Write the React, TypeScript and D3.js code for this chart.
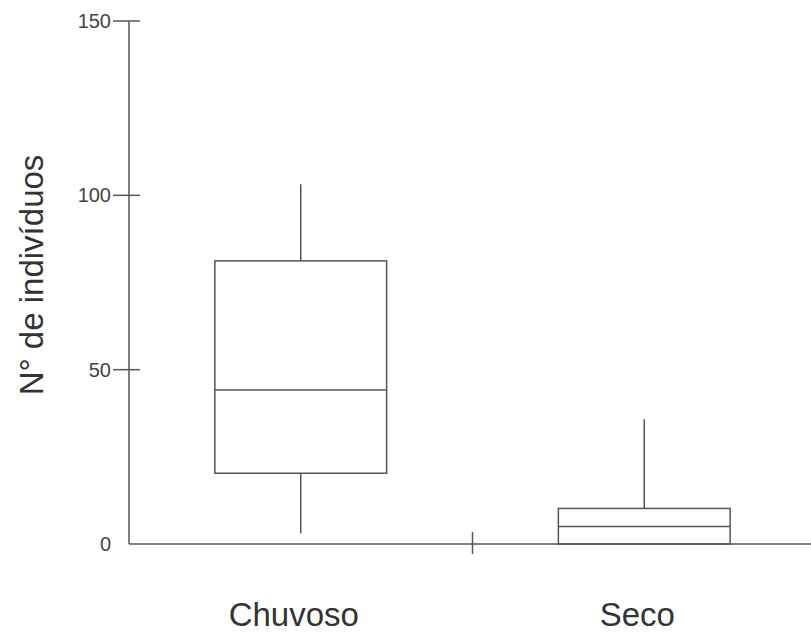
import React from "react";
import * as d3 from "d3";

// categorias e estatísticas das caixas
const categories = ["Chuvoso", "Seco"];
const whiskerLow = [3.1, 0];
const q1 = [20.3, 0];
const medians = [44.2, 5.0];
const q3 = [81.2, 10.2];
const whiskerHigh = [103.2, 35.8];
const yTicks = [0, 50, 100, 150];

const W = 811,
  H = 633;
const stroke = "#555";

export default function App() {
  const y = d3.scaleLinear().domain([0, 150]).range([544, 21]);
  const x = d3.scaleBand().domain(categories).range([129, 816]);
  const boxW = x.bandwidth() * 0.5;
  const midTick = x(categories[1])!;

  return (
    <svg
      width={W}
      height={H}
      style={{ position: "absolute", left: 0, top: 0, fontFamily: "'Liberation Sans', Arial, sans-serif" }}
    >
      {/* eixo y */}
      <line x1={x.range()[0]} x2={x.range()[0]} y1={y(150)} y2={y(0)} stroke={stroke} strokeWidth={1.5} />
      {yTicks.map((t) => (
        <g key={t}>
          {t > 0 && <line x1={113} x2={140} y1={y(t)} y2={y(t)} stroke={stroke} strokeWidth={1.5} />}
          <text x={111} y={y(t)} dy="0.35em" textAnchor="end" fontSize={20} fill="#444">
            {t}
          </text>
        </g>
      ))}
      {/* eixo x */}
      <line x1={x.range()[0]} x2={W} y1={y(0)} y2={y(0)} stroke={stroke} strokeWidth={1.5} />
      <line x1={midTick} x2={midTick} y1={y(0) - 12} y2={y(0) + 10} stroke={stroke} strokeWidth={1.5} />

      {/* caixas */}
      {categories.map((c, i) => {
        const cx = x(c)! + x.bandwidth() / 2;
        return (
          <g key={c} stroke={stroke} strokeWidth={1.5} fill="none">
            <line x1={cx} x2={cx} y1={y(whiskerHigh[i])} y2={y(q3[i])} />
            {whiskerLow[i] < q1[i] && <line x1={cx} x2={cx} y1={y(q1[i])} y2={y(whiskerLow[i])} />}
            <rect x={cx - boxW / 2} y={y(q3[i])} width={boxW} height={y(q1[i]) - y(q3[i])} />
            <line x1={cx - boxW / 2} x2={cx + boxW / 2} y1={y(medians[i])} y2={y(medians[i])} />
            <text
              x={cx}
              dx={-7}
              y={626}
              textAnchor="middle"
              fontSize={33}
              fill="#333"
              stroke="none"
            >
              {c}
            </text>
          </g>
        );
      })}

      {/* título do eixo y */}
      <text transform="translate(43,275) rotate(-90)" textAnchor="middle" fontSize={33} fill="#333">
        N° de indivíduos
      </text>
    </svg>
  );
}
